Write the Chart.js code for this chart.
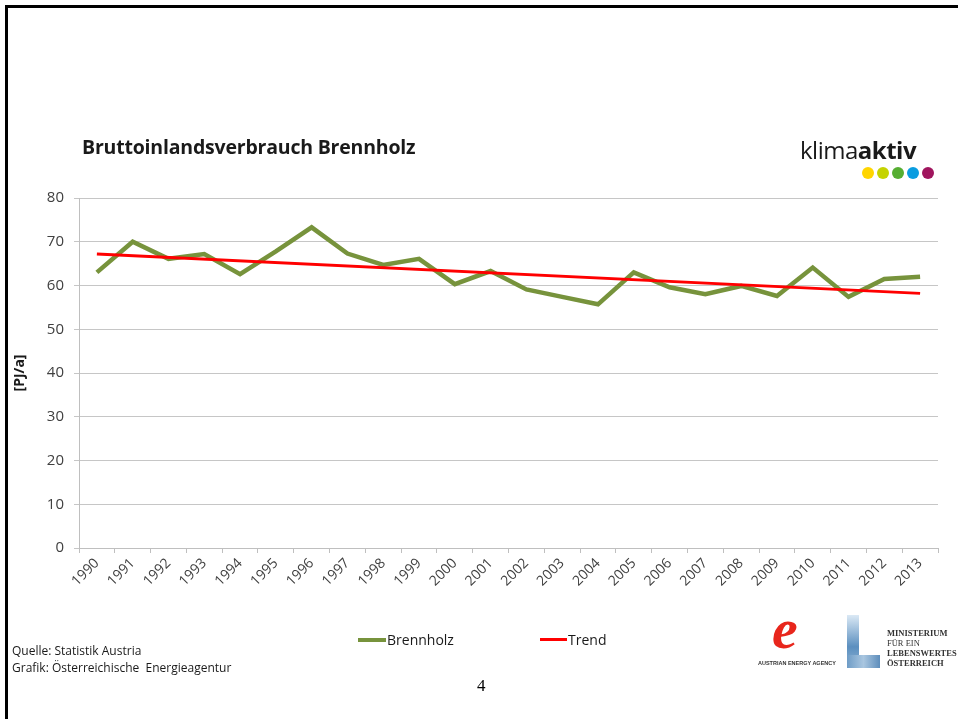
<!DOCTYPE html>
<html>
<head>
<meta charset="utf-8">
<title>Bruttoinlandsverbrauch Brennholz</title>
<script src="https://cdn.jsdelivr.net/npm/chart.js@4.4.1/dist/chart.umd.min.js"></script>
<style>
  body { margin: 0; background: #fff; overflow: hidden; }
  #seite { position: relative; width: 958px; height: 719px; font-family: "Open Sans", sans-serif; }
  #rahmenOben { position: absolute; left: 5px; top: 5px; width: 953px; height: 3px; background: #000; }
  #rahmenLinks { position: absolute; left: 5px; top: 5px; width: 3px; height: 714px; background: #000; }
  #grafik { position: absolute; left: 0; top: 0; }
  .txt { position: absolute; white-space: nowrap; }
  #titel { left: 82px; top: 133px; font-size: 19.5px; font-weight: 700; color: #1a1a1a; letter-spacing: -0.2px; }
  #klima { left: 800px; top: 133px; font-size: 24px; color: #1a1a1a; letter-spacing: -0.5px; }
  .punkt { position: absolute; width: 12px; height: 12px; border-radius: 6px; top: 167px; }
  .legende { top: 630px; font-size: 14px; color: #1a1a1a; }
  .linie { position: absolute; height: 4px; top: 638px; }
  #quelle { left: 12px; top: 642px; font-size: 12px; line-height: 17px; color: #1a1a1a; }
  #seitennr { left: 477px; top: 676px; font-family: "Liberation Serif", serif; font-size: 17px; }
  #eaLogo { left: 772px; top: 600px; font-family: "Liberation Serif", serif; font-style: italic; font-weight: 700; font-size: 58px; color: #e8261c; line-height: 58px; }
  #eaText { left: 758px; top: 660px; font-family: "Liberation Sans", sans-serif; font-size: 5.5px; font-weight: 700; color: #333; }
  #lVert { position: absolute; left: 847px; top: 615px; width: 12px; height: 53px; background: linear-gradient(to bottom, #dbe9f5, #5b8fbf 60%, #8fb3d3); }
  #lHor { position: absolute; left: 847px; top: 655px; width: 33px; height: 13px; background: linear-gradient(to right, #6e9cc6, #a9c6e0, #5d8dbb); }
  #minist { left: 887px; top: 628px; font-family: "Liberation Serif", serif; font-weight: 700; font-size: 8.5px; line-height: 10px; color: #333; }
</style>
</head>
<body>
<div id="seite">
  <div id="rahmenOben"></div>
  <div id="rahmenLinks"></div>
  <canvas id="grafik" width="958" height="719"></canvas>

  <div class="txt" id="titel">Bruttoinlandsverbrauch Brennholz</div>
  <div class="txt" id="klima">klima<b>aktiv</b></div>
  <div class="punkt" style="left:862px;background:#ffd500"></div>
  <div class="punkt" style="left:877px;background:#c5d300"></div>
  <div class="punkt" style="left:892px;background:#56ae32"></div>
  <div class="punkt" style="left:907px;background:#0a9de0"></div>
  <div class="punkt" style="left:922px;background:#a0155e"></div>

  <div class="linie" style="left:358px;width:28px;background:#77933c"></div>
  <div class="txt legende" style="left:387px">Brennholz</div>
  <div class="linie" style="left:540px;width:27px;background:#ff0000;height:3px"></div>
  <div class="txt legende" style="left:568px">Trend</div>

  <div class="txt" id="quelle">Quelle: Statistik Austria<br>Grafik: Österreichische&nbsp; Energieagentur</div>
  <div class="txt" id="seitennr">4</div>

  <div class="txt" id="eaLogo">e</div>
  <div class="txt" id="eaText">AUSTRIAN ENERGY AGENCY</div>
  <div id="lVert"></div>
  <div id="lHor"></div>
  <div class="txt" id="minist">MINISTERIUM<br><span style="font-weight:400">FÜR EIN</span><br>LEBENSWERTES<br>ÖSTERREICH</div>
</div>

<script>
var jahre = ["1990", "1991", "1992", "1993", "1994", "1995", "1996", "1997", "1998", "1999", "2000", "2001",
  "2002", "2003", "2004", "2005", "2006", "2007", "2008", "2009", "2010", "2011", "2012", "2013"];

// Brennholz [PJ/a]
var brennholz = [63.0, 70.0, 66.1, 67.2, 62.6, 67.8, 73.3, 67.3, 64.7, 66.1, 60.3, 63.3,
  59.1, 57.4, 55.7, 63.0, 59.6, 58.0, 59.9, 57.6, 64.1, 57.4, 61.5, 62.0];

// Trendlinie: nur Anfangs- und Endwert, dazwischen Lücken
var trend = [67.2, null, null, null, null, null, null, null, null, null, null, null,
  null, null, null, null, null, null, null, null, null, null, null, 58.2];

var Y_MIN = 0;
var Y_MAX = 80;
var Y_SCHRITT = 10;

var FARBE_TEXT = "#404040";
var FARBE_GITTER = "#c6c6c6";

function zeichneGrafik() {
  var ctx = document.getElementById("grafik").getContext("2d");

  new Chart(ctx, {
    type: "line",
    data: {
      labels: jahre,
      datasets: [
        {
          label: "Brennholz",
          data: brennholz,
          borderColor: "#77933c",
          borderWidth: 4.5,
          pointRadius: 0,
          tension: 0,
          borderJoinStyle: "miter",
          order: 2
        },
        {
          label: "Trend",
          data: trend,
          borderColor: "#ff0000",
          borderWidth: 3,
          pointRadius: 0,
          spanGaps: true,
          order: 1
        }
      ]
    },
    options: {
      responsive: false,
      animation: false,
      devicePixelRatio: 1,
      layout: {
        padding: { top: 198, right: 20, left: 0, bottom: 0 }
      },
      plugins: {
        legend: { display: false },
        tooltip: { enabled: false },
        title: { display: false }
      },
      scales: {
        x: {
          type: "category",
          offset: true,
          grid: {
            offset: true,
            drawOnChartArea: false,
            drawTicks: true,
            tickLength: 5,
            color: "#bfbfbf"
          },
          border: { color: "#bfbfbf" },
          ticks: {
            minRotation: 45,
            maxRotation: 45,
            autoSkip: false,
            color: FARBE_TEXT,
            padding: 2,
            font: { family: "Open Sans", size: 14 }
          },
          afterFit: function (skala) {
            skala.height = 171;
          }
        },
        y: {
          min: Y_MIN,
          max: Y_MAX,
          grid: {
            color: FARBE_GITTER,
            tickLength: 5
          },
          border: { color: "#bfbfbf" },
          ticks: {
            stepSize: Y_SCHRITT,
            color: FARBE_TEXT,
            padding: 10,
            font: { family: "Open Sans", size: 15 }
          },
          title: {
            display: true,
            text: "[PJ/a]",
            color: "#1a1a1a",
            padding: { top: 12, bottom: 0 },
            font: { family: "Open Sans", size: 14, weight: "bold" }
          },
          afterFit: function (skala) {
            skala.width = 79;
          }
        }
      }
    }
  });
}

window.onload = function () {
  zeichneGrafik();
};
</script>
</body>
</html>
